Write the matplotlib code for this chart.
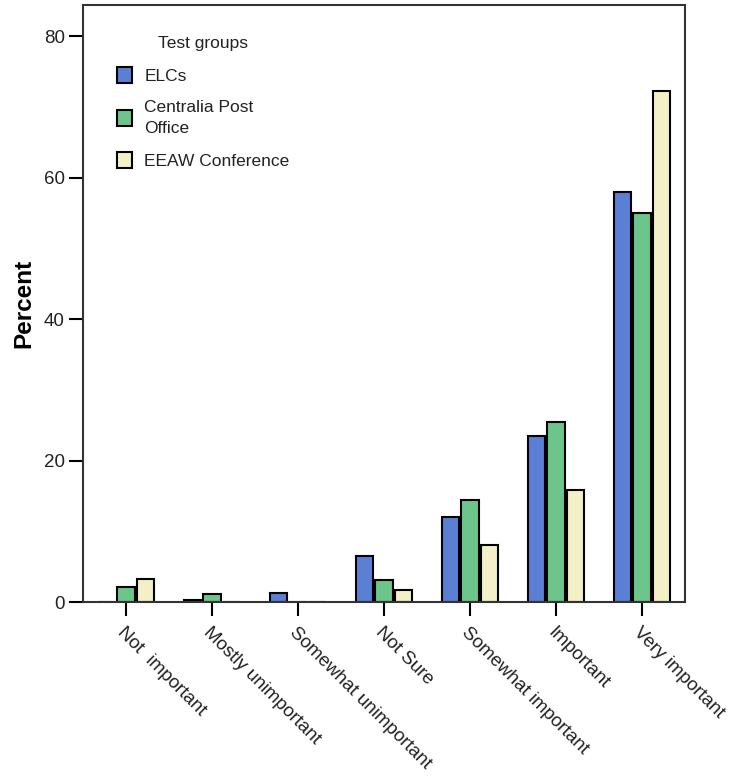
import numpy as np
import matplotlib
matplotlib.use("Agg")
import matplotlib.pyplot as plt
from matplotlib.patches import Patch

plt.rcParams['font.family'] = ['Liberation Sans', 'DejaVu Sans']

# Response categories and percentages per test group
categories = ["Not  important", "Mostly unimportant", "Somewhat unimportant",
              "Not Sure", "Somewhat important", "Important", "Very important"]
elcs = [0.0, 0.3, 1.3, 6.5, 12.0, 23.4, 57.9]
centralia = [2.1, 1.1, 0.0, 3.1, 14.4, 25.4, 55.0]
eeaw = [3.2, 0.0, 0.0, 1.7, 8.0, 15.8, 72.3]

groups = ["ELCs", "Centralia Post\nOffice", "EEAW Conference"]
colors = ["#5b7fd3", "#6cc68c", "#f3f0c8"]

fig = plt.figure(figsize=(7.44, 7.76), dpi=100)
ax = fig.add_axes([0.1116, 0.2242, 0.8091, 0.7694])

x = np.arange(len(categories))
width = 0.23
for i, (vals, col) in enumerate(zip([elcs, centralia, eeaw], colors)):
    ax.bar(x + (i - 1) * width, vals, width=0.2, color=col,
           edgecolor="black", linewidth=1.5)

ax.set_xlim(-0.5, 6.5)
ax.set_ylim(0, 84.4)
ax.set_yticks([0, 20, 40, 60, 80])
ax.set_xticks(x)
ax.set_xticklabels(categories, rotation=-45, ha="left", rotation_mode="anchor",
                   fontsize=13.5, color="#222222")
ax.tick_params(axis="y", labelsize=13.5, length=10, width=1.5, pad=3,
               labelcolor="#222222")
ax.tick_params(axis="x", length=10, width=1.5, pad=6)
for sp in ax.spines.values():
    sp.set_linewidth(1.5)
    sp.set_color("#333333")
ax.set_ylabel("Percent", fontsize=17.5, fontweight="bold", labelpad=6)

handles = [Patch(facecolor=c, edgecolor="black", linewidth=1.5) for c in colors]
leg = ax.legend(handles, groups, title="Test groups", loc="upper left",
                bbox_to_anchor=(0.03, 0.975), frameon=False, fontsize=12.5,
                title_fontsize=12.5, handlelength=0.9, handleheight=1.0,
                handletextpad=0.7, labelspacing=0.95)
for t in leg.get_texts():
    t.set_color("#222222")
    t.set_linespacing(1.45)
leg.get_title().set_color("#222222")

fig.savefig("out.png", dpi=100)
